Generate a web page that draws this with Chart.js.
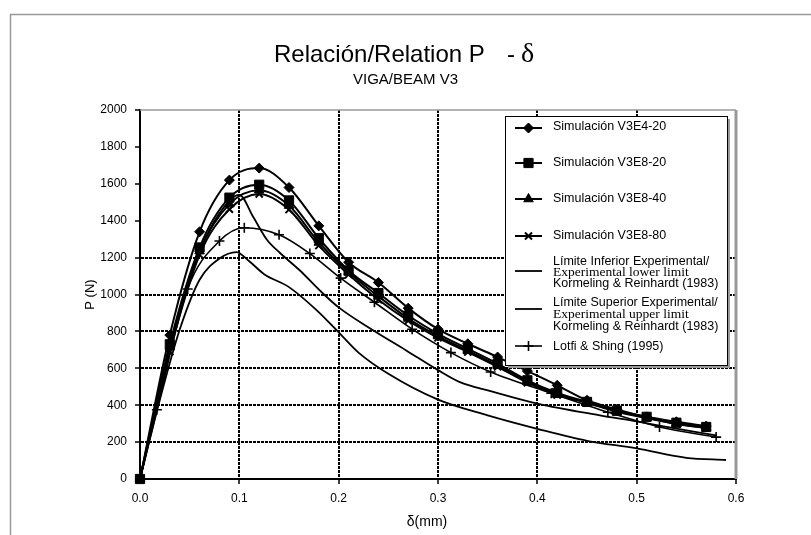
<!DOCTYPE html>
<html>
<head>
<meta charset="utf-8">
<title>Relación/Relation P - δ</title>
<script src="https://cdn.jsdelivr.net/npm/chart.js@4.4.1/dist/chart.umd.min.js"></script>
<style>
  html, body { margin: 0; padding: 0; background: #fff; }
  #wrap { width: 811px; height: 535px; position: relative; }
</style>
</head>
<body>
<div id="wrap"><canvas id="chart" width="811" height="535"></canvas></div>
<script>
// deflection (mm) of the simulation markers
const simDelta = [0, 0.03, 0.06, 0.09, 0.12, 0.15, 0.18, 0.21, 0.24, 0.27, 0.30, 0.33, 0.36, 0.39, 0.42, 0.45, 0.48, 0.51, 0.54, 0.57];
const simE4_20 = [0, 780, 1340, 1620, 1685, 1580, 1372, 1175, 1065, 926, 812, 733, 661, 585, 508, 427, 377, 337, 310, 287];
const simE8_20 = [0, 730, 1255, 1525, 1595, 1510, 1305, 1130, 1008, 886, 787, 706, 625, 535, 467, 418, 370, 337, 305, 282];
const simE8_40 = [0, 715, 1235, 1490, 1565, 1482, 1282, 1120, 990, 870, 775, 695, 615, 528, 460, 415, 368, 333, 300, 278];
const simE8_80 = [0, 690, 1215, 1462, 1545, 1460, 1265, 1108, 972, 858, 765, 688, 608, 522, 455, 412, 365, 330, 298, 276];

// Kormeling & Reinhardt (1983) experimental envelope
const lowerDelta = [0, 0.02, 0.04, 0.06, 0.08, 0.097, 0.11, 0.125, 0.15, 0.178, 0.20, 0.22, 0.25, 0.30, 0.35, 0.40, 0.45, 0.50, 0.55, 0.59];
const lowerP     = [0, 430, 810, 1080, 1195, 1230, 1180, 1110, 1040, 914, 795, 685, 570, 430, 345, 272, 207, 166, 115, 103];
const upperDelta = [0, 0.03, 0.06, 0.08, 0.10, 0.114, 0.128, 0.141, 0.161, 0.181, 0.20, 0.235, 0.268, 0.30, 0.322, 0.352, 0.40, 0.463, 0.50, 0.53, 0.58];
const upperP     = [0, 715, 1230, 1440, 1540, 1420, 1295, 1225, 1130, 1022, 930, 805, 697, 590, 525, 478, 409, 345, 312, 283, 236];

// Lotfi & Shing (1995)
const lotfiDelta = [0, 0.017, 0.048, 0.080, 0.105, 0.140, 0.171, 0.202, 0.236, 0.274, 0.313, 0.353, 0.414, 0.471, 0.523, 0.580];
const lotfiP     = [0, 375, 1030, 1290, 1362, 1324, 1222, 1089, 958, 812, 685, 580, 465, 362, 282, 227];

const xTicks = [0, 0.1, 0.2, 0.3, 0.4, 0.5, 0.6];
const yTicks = [0, 200, 400, 600, 800, 1000, 1200, 1400, 1600, 1800, 2000];

const SANS = '"Liberation Sans", Arial, sans-serif';
const SERIF = '"Liberation Serif", "Times New Roman", serif';

function series(xs, ys) {
    return xs.map((x, i) => ({ x: x, y: ys[i] }));
}

function simSet(label, ys, style, radius, pbw) {
    return {
        label: label,
        data: series(simDelta, ys),
        borderColor: '#000',
        backgroundColor: '#000',
        borderWidth: 2,
        pointStyle: style,
        pointRadius: radius,
        pointBorderWidth: pbw,
        pointBackgroundColor: '#000',
        pointBorderColor: '#000',
        cubicInterpolationMode: 'monotone',
        clip: false
    };
}

function plainSet(label, xs, ys) {
    return {
        label: label,
        data: series(xs, ys),
        borderColor: '#000',
        borderWidth: 1.8,
        pointRadius: 0,
        cubicInterpolationMode: 'monotone',
        clip: false
    };
}

const datasets = [
    simSet('Simulación V3E4-20', simE4_20, 'rectRot', 5, 1),
    simSet('Simulación V3E8-20', simE8_20, 'rect', 6.5, 1),
    simSet('Simulación V3E8-40', simE8_40, 'triangle', 5.5, 1),
    simSet('Simulación V3E8-80', simE8_80, 'crossRot', 5, 2),
    plainSet('Límite Inferior Experimental/Experimental lower limit Kormeling & Reinhardt (1983)', lowerDelta, lowerP),
    plainSet('Límite Superior Experimental/Experimental upper limit Kormeling & Reinhardt (1983)', upperDelta, upperP),
    Object.assign(plainSet('Lotfi & Shing (1995)', lotfiDelta, lotfiP), {
        borderWidth: 1.6, pointStyle: 'cross', pointRadius: 5, pointBorderWidth: 1.6, pointBorderColor: '#000'
    })
];

// legend rows: dataset index, sample line y, text lines [text, font, y]
const legendRows = [
    { ds: 0, y: 128, lines: [['Simulación V3E4-20', 'sans', 127]] },
    { ds: 1, y: 163, lines: [['Simulación V3E8-20', 'sans', 163]] },
    { ds: 2, y: 199, lines: [['Simulación V3E8-40', 'sans', 199]] },
    { ds: 3, y: 236, lines: [['Simulación V3E8-80', 'sans', 236]] },
    { ds: 4, y: 271, lines: [['Límite Inferior Experimental/', 'sans', 262], ['Experimental lower limit', 'serif', 272.5], ['Kormeling & Reinhardt (1983)', 'sans', 283.5]] },
    { ds: 5, y: 309, lines: [['Límite Superior Experimental/', 'sans', 303], ['Experimental upper limit', 'serif', 314], ['Kormeling & Reinhardt (1983)', 'sans', 327]] },
    { ds: 6, y: 346, lines: [['Lotfi & Shing (1995)', 'sans', 347]] }
];

const decor = {
    id: 'decor',
    beforeDraw(chart) {
        const c = chart.ctx;
        c.save();
        c.fillStyle = '#fff';
        c.fillRect(0, 0, chart.width, chart.height);
        c.strokeStyle = '#999';
        c.lineWidth = 1.5;
        c.strokeRect(10.5, 14.5, 830, 560);
        c.restore();
    },
    beforeDatasetsDraw(chart) {
        const c = chart.ctx;
        const a = chart.chartArea;
        c.save();
        c.strokeStyle = '#999';
        c.lineWidth = 1.5;
        c.beginPath();
        c.moveTo(a.left, a.top);
        c.lineTo(a.right, a.top);
        c.stroke();
        c.lineWidth = 3;
        c.beginPath();
        c.moveTo(a.right, a.top);
        c.lineTo(a.right, a.bottom);
        c.stroke();
        c.restore();
    },
    afterDraw(chart) {
        const c = chart.ctx;
        const a = chart.chartArea;
        c.save();
        c.fillStyle = '#000';

        // title
        c.textBaseline = 'alphabetic';
        c.textAlign = 'left';
        c.font = '24px ' + SANS;
        c.fillText('Relación/Relation P', 274, 62);
        c.fillText('-', 507, 62);
        c.font = '28px ' + SERIF;
        c.fillText('δ', 521, 62);
        c.textAlign = 'center';
        c.font = '15px ' + SANS;
        c.fillText('VIGA/BEAM V3', 405.5, 84);

        // axis titles
        c.textBaseline = 'middle';
        c.font = '14px ' + SANS;
        c.fillText('δ(mm)', 427, 522);
        c.save();
        c.translate(90, (a.top + a.bottom) / 2);
        c.rotate(-Math.PI / 2);
        c.font = '13px ' + SANS;
        c.fillText('P (N)', 0, 0);
        c.restore();

        // legend box
        const lx = 505, ly = 116, lw = 222, lh = 249;
        c.fillStyle = '#9a9a9a';
        c.fillRect(lx + 3, ly + 3, lw, lh);
        c.fillStyle = '#fff';
        c.fillRect(lx, ly, lw, lh);
        c.strokeStyle = '#000';
        c.lineWidth = 1;
        c.strokeRect(lx + 0.5, ly + 0.5, lw, lh);

        legendRows.forEach(row => {
            const ds = chart.data.datasets[row.ds];
            c.strokeStyle = '#000';
            c.lineWidth = ds.borderWidth;
            c.beginPath();
            c.moveTo(515, row.y);
            c.lineTo(542, row.y);
            c.stroke();
            if (ds.pointRadius) {
                c.fillStyle = '#000';
                c.lineWidth = ds.pointBorderWidth || 1;
                Chart.helpers.drawPoint(c, {
                    pointStyle: ds.pointStyle,
                    radius: ds.pointRadius,
                    rotation: 0,
                    borderWidth: ds.pointBorderWidth || 1
                }, 528.5, row.y);
            }
            c.fillStyle = '#000';
            c.textAlign = 'left';
            c.textBaseline = 'middle';
            row.lines.forEach(l => {
                c.font = l[1] === 'serif' ? '13.5px ' + SERIF : '12.5px ' + SANS;
                c.fillText(l[0], 553, l[2]);
            });
        });
        c.restore();
    }
};

new Chart(document.getElementById('chart'), {
    type: 'line',
    data: { datasets: datasets },
    options: {
        responsive: false,
        animation: false,
        events: [],
        layout: { padding: { top: 110, right: 75, left: 0, bottom: 0 } },
        plugins: {
            legend: { display: false },
            title: { display: false },
            tooltip: { enabled: false }
        },
        scales: {
            x: {
                type: 'linear',
                min: 0,
                max: 0.6,
                afterFit: s => { s.height = 56; },
                afterBuildTicks: s => { s.ticks = xTicks.map(v => ({ value: v })); },
                grid: {
                    color: ctx => (ctx.tick && ctx.tick.value > 0.05 && ctx.tick.value < 0.55) ? '#000' : 'rgba(0,0,0,0)',
                    lineWidth: 2,
                    tickColor: '#000',
                    tickLength: 5,
                    tickWidth: 1.5
                },
                border: { display: true, color: '#000', width: 2, dash: [3, 1] },
                ticks: {
                    color: '#000',
                    font: { family: SANS, size: 12 },
                    padding: 7,
                    maxRotation: 0,
                    callback: v => Number(v).toFixed(1)
                }
            },
            y: {
                min: 0,
                max: 2000,
                afterFit: s => { s.width = 140; },
                afterBuildTicks: s => { s.ticks = yTicks.map(v => ({ value: v })); },
                grid: {
                    color: ctx => (ctx.tick && ctx.tick.value > 0 && ctx.tick.value <= 1200) ? '#000' : 'rgba(0,0,0,0)',
                    lineWidth: 2,
                    tickColor: '#000',
                    tickLength: 5,
                    tickWidth: 1.5
                },
                border: { display: true, color: '#000', width: 2, dash: [3, 1] },
                ticks: {
                    color: '#000',
                    font: { family: SANS, size: 12 },
                    padding: 8,
                    callback: v => String(v)
                }
            }
        }
    },
    plugins: [decor]
});
</script>
</body>
</html>
